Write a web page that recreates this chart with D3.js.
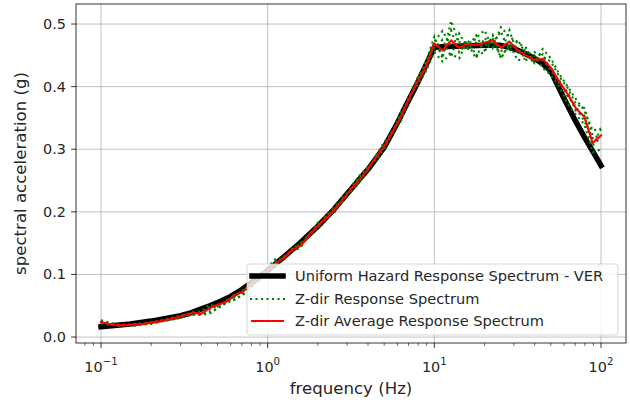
<!DOCTYPE html>
<html><head><meta charset="utf-8">
<script src="https://cdn.jsdelivr.net/npm/d3@7/dist/d3.min.js"></script>
<style>body{margin:0;background:#fff;} svg text{font-family:"DejaVu Sans",sans-serif;fill:#262626;}</style>
</head><body><svg id="c" width="630" height="405"></svg>
<script>
// ---- data ----
const uhsFreq = [0.1, 0.12, 0.15, 0.2, 0.25, 0.3, 0.35, 0.4, 0.45, 0.5, 0.6, 0.7, 0.8, 0.9, 1,
  1.2, 1.5, 2, 2.5, 3, 3.5, 4, 5, 6, 7, 8, 9, 10,
  12, 15, 20, 25, 30, 35, 40, 45, 50, 60, 70, 80, 90, 100];
const uhsVals = [0.0165, 0.0185, 0.021, 0.0255, 0.030, 0.034, 0.039, 0.045, 0.050, 0.055, 0.065, 0.076, 0.087, 0.097, 0.106,
  0.124, 0.146, 0.177, 0.204, 0.229, 0.250, 0.268, 0.303, 0.342, 0.378, 0.408, 0.437, 0.463,
  0.464, 0.465, 0.466, 0.466, 0.461, 0.453, 0.445, 0.436, 0.425, 0.381, 0.346, 0.318, 0.295, 0.274];

const freq = [0.1, 0.112, 0.126, 0.141, 0.158, 0.178, 0.2, 0.224, 0.251, 0.282,
  0.316, 0.355, 0.398, 0.447, 0.501, 0.562, 0.631, 0.708, 0.794, 0.891,
  1, 1.12, 1.26, 1.41, 1.58, 1.78, 2.0, 2.24, 2.51, 2.82,
  3.16, 3.55, 3.98, 4.47, 5.01, 5.62, 6.31, 7.08, 7.94, 8.91,
  10, 11.2, 12.6, 14.1, 15.8, 17.8, 20, 22.4, 25.1, 28.2,
  31.6, 35.5, 39.8, 44.7, 50.1, 56.2, 63.1, 70.8, 79.4, 89.1, 100];

const zdirAvg = [0.024, 0.021, 0.019, 0.019, 0.020, 0.021, 0.023, 0.025, 0.028, 0.031,
  0.035, 0.039, 0.037, 0.046, 0.052, 0.056, 0.067, 0.072, 0.085, 0.094,
  0.106, 0.118, 0.127, 0.140, 0.146, 0.163, 0.178, 0.190, 0.203, 0.219,
  0.236, 0.251, 0.268, 0.287, 0.305, 0.328, 0.352, 0.382, 0.408, 0.432,
  0.469, 0.458, 0.474, 0.462, 0.468, 0.466, 0.470, 0.474, 0.462, 0.472,
  0.458, 0.450, 0.443, 0.444, 0.430, 0.408, 0.388, 0.365, 0.352, 0.310, 0.322];

const zdirRec1 = [0.027, 0.023, 0.020, 0.019, 0.021, 0.022, 0.023, 0.026, 0.029, 0.032,
  0.036, 0.035, 0.040, 0.052, 0.049, 0.058, 0.066, 0.072, 0.088, 0.090,
  0.112, 0.125, 0.124, 0.142, 0.150, 0.160, 0.183, 0.188, 0.210, 0.216,
  0.240, 0.258, 0.265, 0.290, 0.312, 0.325, 0.360, 0.378, 0.415, 0.440,
  0.480, 0.445, 0.505, 0.470, 0.458, 0.478, 0.490, 0.462, 0.495, 0.480,
  0.470, 0.462, 0.438, 0.460, 0.445, 0.420, 0.400, 0.380, 0.362, 0.330, 0.333];

const zdirRec2 = [0.022, 0.020, 0.018, 0.0185, 0.018, 0.020, 0.021, 0.024, 0.027, 0.029,
  0.033, 0.037, 0.035, 0.040, 0.046, 0.054, 0.060, 0.067, 0.079, 0.095,
  0.102, 0.113, 0.130, 0.137, 0.143, 0.167, 0.173, 0.193, 0.198, 0.224,
  0.232, 0.247, 0.272, 0.283, 0.300, 0.331, 0.345, 0.386, 0.402, 0.425,
  0.455, 0.440, 0.452, 0.445, 0.475, 0.450, 0.455, 0.482, 0.445, 0.468,
  0.442, 0.445, 0.450, 0.430, 0.418, 0.400, 0.372, 0.355, 0.340, 0.295, 0.300];

const zdirRec3 = [0.023, 0.020, 0.019, 0.0195, 0.0195, 0.021, 0.022, 0.025, 0.028, 0.029,
  0.033, 0.036, 0.036, 0.037, 0.046, 0.056, 0.060, 0.068, 0.082, 0.091,
  0.104, 0.116, 0.127, 0.141, 0.145, 0.162, 0.178, 0.189, 0.201, 0.217,
  0.236, 0.248, 0.267, 0.288, 0.303, 0.328, 0.351, 0.382, 0.407, 0.431,
  0.472, 0.489, 0.465, 0.471, 0.471, 0.470, 0.465, 0.478, 0.446, 0.468,
  0.462, 0.443, 0.441, 0.442, 0.427, 0.404, 0.392, 0.360, 0.354, 0.305, 0.333];

const zdirRec4 = [0.025, 0.022, 0.020, 0.019, 0.020, 0.022, 0.024, 0.025, 0.029, 0.032,
  0.034, 0.040, 0.041, 0.047, 0.050, 0.057, 0.068, 0.073, 0.084, 0.096,
  0.109, 0.120, 0.129, 0.139, 0.150, 0.165, 0.176, 0.194, 0.205, 0.220,
  0.238, 0.254, 0.270, 0.285, 0.309, 0.330, 0.355, 0.380, 0.412, 0.438,
  0.462, 0.475, 0.448, 0.485, 0.462, 0.482, 0.458, 0.470, 0.488, 0.455,
  0.475, 0.452, 0.455, 0.448, 0.440, 0.416, 0.398, 0.372, 0.366, 0.322, 0.318];

const zdirRec5 = [0.022, 0.020, 0.019, 0.0195, 0.019, 0.021, 0.023, 0.026, 0.027, 0.031,
  0.035, 0.038, 0.038, 0.044, 0.051, 0.055, 0.064, 0.075, 0.082, 0.093,
  0.105, 0.122, 0.126, 0.142, 0.148, 0.163, 0.180, 0.188, 0.204, 0.221,
  0.234, 0.253, 0.266, 0.289, 0.304, 0.327, 0.354, 0.380, 0.410, 0.430,
  0.470, 0.450, 0.490, 0.455, 0.470, 0.445, 0.478, 0.465, 0.455, 0.490,
  0.452, 0.460, 0.440, 0.452, 0.425, 0.410, 0.384, 0.368, 0.345, 0.318, 0.310];

const xTicks = [0.1, 1, 10, 100];
const xTickExp = ["\u22121", "0", "1", "2"];
const yTicks = [0.0, 0.1, 0.2, 0.3, 0.4, 0.5];
const legendLabels = ["Uniform Hazard Response Spectrum - VER", "Z-dir Response Spectrum", "Z-dir Average Response Spectrum"];
const xLabel = "frequency (Hz)";
const yLabel = "spectral acceleration (g)";

// ---- layout ----
const L = 76, R = 626, T = 4, B = 343;
const svg = d3.select("#c");
const x = d3.scaleLog().domain([Math.pow(10, -1.15), Math.pow(10, 2.15)]).range([L, R]);
const y = d3.scaleLinear().domain([-0.0095, 0.532]).range([B, T]);

// grid
const g = svg.append("g");
g.selectAll(".gx").data(xTicks).join("line")
  .attr("x1", d => x(d)).attr("x2", d => x(d)).attr("y1", T).attr("y2", B)
  .attr("stroke", "#b0b0b0").attr("stroke-width", 0.8);
g.selectAll(".gy").data(yTicks).join("line")
  .attr("y1", d => y(d)).attr("y2", d => y(d)).attr("x1", L).attr("x2", R)
  .attr("stroke", "#b0b0b0").attr("stroke-width", 0.8);

// clip
svg.append("clipPath").attr("id", "clip").append("rect")
  .attr("x", L).attr("y", T).attr("width", R - L).attr("height", B - T);
const plot = svg.append("g").attr("clip-path", "url(#clip)");

const line = d3.line().x(d => x(d[0])).y(d => y(d[1]));
const zip = (a, b) => a.map((v, i) => [v, b[i]]);

plot.append("path").datum(zip(uhsFreq, uhsVals)).attr("d", line)
  .attr("fill", "none").attr("stroke", "#000").attr("stroke-width", 5.5)
  .attr("stroke-linejoin", "round").attr("stroke-linecap", "square");

[zdirRec1, zdirRec2, zdirRec3, zdirRec4, zdirRec5].forEach(rec => {
  plot.append("path").datum(zip(freq, rec)).attr("d", line)
    .attr("fill", "none").attr("stroke", "#008000").attr("stroke-width", 2.1)
    .attr("stroke-dasharray", "2.1,3.4");
});

plot.append("path").datum(zip(freq, zdirAvg)).attr("d", line)
  .attr("fill", "none").attr("stroke", "#ff0000").attr("stroke-width", 2.1)
  .attr("stroke-linejoin", "round").attr("stroke-linecap", "square");

// spines
svg.append("rect").attr("x", L).attr("y", T).attr("width", R - L).attr("height", B - T)
  .attr("fill", "none").attr("stroke", "#000").attr("stroke-width", 0.8);

// x ticks
const minor = [];
[-2, -1, 0, 1, 2].forEach(e => { for (let k = 2; k <= 9; k++) { const v = k * Math.pow(10, e); if (v > x.domain()[0] && v < x.domain()[1]) minor.push(v); } });
svg.selectAll(".mx").data(minor).join("line")
  .attr("x1", d => x(d)).attr("x2", d => x(d)).attr("y1", B).attr("y2", B + 2.8)
  .attr("stroke", "#000").attr("stroke-width", 0.6);
svg.selectAll(".tx").data(xTicks).join("line")
  .attr("x1", d => x(d)).attr("x2", d => x(d)).attr("y1", B).attr("y2", B + 4.9)
  .attr("stroke", "#000").attr("stroke-width", 0.8);
const xt = svg.selectAll(".xtl").data(xTicks).join("text")
  .attr("x", d => x(d)).attr("y", 372).attr("text-anchor", "middle")
  .attr("font-size", 14.4);
xt.append("tspan").text("10");
xt.append("tspan").attr("dy", -7).attr("font-size", 10.2).text((d, i) => xTickExp[i]);

// y ticks
svg.selectAll(".ty").data(yTicks).join("line")
  .attr("y1", d => y(d)).attr("y2", d => y(d)).attr("x1", L).attr("x2", L - 4.9)
  .attr("stroke", "#000").attr("stroke-width", 0.8);
svg.selectAll(".ytl").data(yTicks).join("text")
  .attr("x", 66).attr("y", d => y(d) + 5).attr("text-anchor", "end")
  .attr("font-size", 14.4).text(d => d3.format(".1f")(d));

// axis labels
svg.append("text").attr("x", (L + R) / 2).attr("y", 394).attr("text-anchor", "middle")
  .attr("font-size", 16.6).text(xLabel);
svg.append("text").attr("transform", `translate(26,${(T + B) / 2}) rotate(-90)`)
  .attr("text-anchor", "middle").attr("font-size", 16.6).text(yLabel);

// legend
const lg = svg.append("g");
lg.append("rect").attr("x", 247).attr("y", 264).attr("width", 371).attr("height", 71)
  .attr("rx", 3).attr("fill", "#fff").attr("fill-opacity", 0.8)
  .attr("stroke", "#cccccc").attr("stroke-opacity", 0.8).attr("stroke-width", 1);
const rowY = [276, 299, 321];
const hx1 = 252, hx2 = 283;
lg.append("line").attr("x1", hx1).attr("x2", hx2).attr("y1", rowY[0]).attr("y2", rowY[0])
  .attr("stroke", "#000").attr("stroke-width", 5.5).attr("stroke-linecap", "square");
lg.append("line").attr("x1", hx1 - 2).attr("x2", hx2 + 2).attr("y1", rowY[1]).attr("y2", rowY[1])
  .attr("stroke", "#008000").attr("stroke-width", 2.1).attr("stroke-dasharray", "2.1,3.4");
lg.append("line").attr("x1", hx1).attr("x2", hx2).attr("y1", rowY[2]).attr("y2", rowY[2])
  .attr("stroke", "#ff0000").attr("stroke-width", 2.1).attr("stroke-linecap", "square");
lg.selectAll(".lt").data(legendLabels).join("text")
  .attr("x", 295).attr("y", (d, i) => rowY[i] + 5.3).attr("font-size", 14.6).text(d => d);
</script></body></html>
